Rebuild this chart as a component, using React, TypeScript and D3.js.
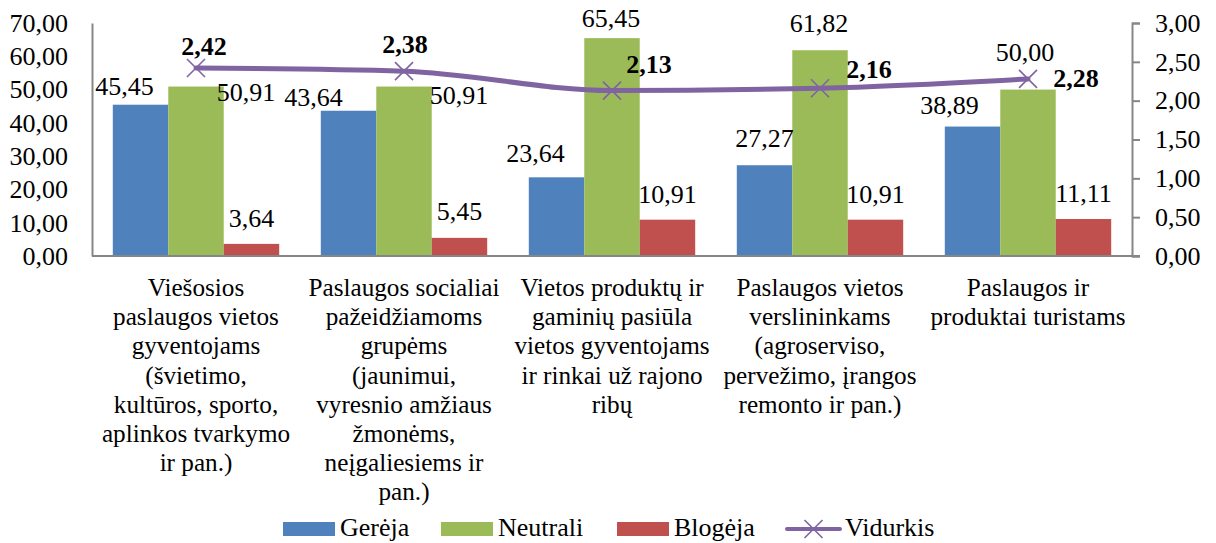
import { useEffect, useRef } from 'react';
import * as d3 from 'd3';

// chart values
const categories = [
    ['Viešosios', 'paslaugos vietos', 'gyventojams', '(švietimo,', 'kultūros, sporto,', 'aplinkos tvarkymo', 'ir pan.)'],
    ['Paslaugos socialiai', 'pažeidžiamoms', 'grupėms', '(jaunimui,', 'vyresnio amžiaus', 'žmonėms,', 'neįgaliesiems ir', 'pan.)'],
    ['Vietos produktų ir', 'gaminių pasiūla', 'vietos gyventojams', 'ir rinkai už rajono', 'ribų'],
    ['Paslaugos vietos', 'verslininkams', '(agroserviso,', 'pervežimo, įrangos', 'remonto ir pan.)'],
    ['Paslaugos ir', 'produktai turistams'],
];
const gereja = [45.45, 43.64, 23.64, 27.27, 38.89];
const neutrali = [50.91, 50.91, 65.45, 61.82, 50.0];
const blogeja = [3.64, 5.45, 10.91, 10.91, 11.11];
const vidurkis = [2.42, 2.38, 2.13, 2.16, 2.28];
const leftTicks = [0, 10, 20, 30, 40, 50, 60, 70];
const rightTicks = [0, 0.5, 1, 1.5, 2, 2.5, 3];
const seriesNames = ['Gerėja', 'Neutrali', 'Blogėja', 'Vidurkis'];

// label nudges (dx, dy from the mark), as placed in the original
const barLabelNudge = [
    [[-16, -10], [50, 14], [0, -17]],
    [[-35, -5], [55, 17], [0, -18]],
    [[-21, -15], [-1, -11], [0, -17]],
    [[0, -18], [-1, -18], [0, -17]],
    [[-23, -13], [-3, -29], [0, -17]],
];
const lineLabelNudge = [[8, -13], [1, -18], [37, -18], [49, -10], [48, 8]];

const colors = ['#4F81BD', '#9BBB59', '#C0504D', '#8064A2'];
const fmt = (v: number) => v.toFixed(2).replace('.', ',');

const App = () => {
    const svgRef = useRef<SVGSVGElement>(null);

    useEffect(() => {
        const width = 1216;
        const height = 543;
        const margin = { top: 23, right: 84, bottom: 287, left: 92 };
        const plotW = width - margin.left - margin.right;
        const plotH = height - margin.top - margin.bottom;
        const font = 'Liberation Serif, Times New Roman, serif';

        const root = d3.select(svgRef.current);
        root.selectAll('*').remove();
        root.attr('width', width).attr('height', height);

        const svg = root.append('g').attr('transform', `translate(${margin.left},${margin.top})`);

        const x = d3.scaleBand().domain(d3.range(categories.length).map(String)).range([0, plotW]).paddingInner(0.2).paddingOuter(0.1);
        const xInner = d3.scaleBand().domain(['0', '1', '2']).range([0, x.bandwidth()]);
        const yLeft = d3.scaleLinear().domain([0, 70]).range([plotH, 0]);
        const yRight = d3.scaleLinear().domain([0, 3]).range([plotH, 0]);
        const center = (i: number) => x(String(i))! + x.bandwidth() / 2;

        // left axis
        const axL = svg.append('g').call(d3.axisLeft(yLeft).tickValues(leftTicks).tickSize(0).tickPadding(24).tickFormat(d => fmt(+d)));
        axL.select('.domain').attr('stroke', '#868686').attr('stroke-width', 2);
        axL.selectAll('text').attr('font-family', font).attr('font-size', 26).attr('fill', '#000');

        // right axis
        const axR = svg.append('g').attr('transform', `translate(${plotW},0)`)
            .call(d3.axisRight(yRight).tickValues(rightTicks).tickSizeOuter(0).tickSize(8).tickPadding(15).tickFormat(d => fmt(+d)));
        axR.select('.domain').attr('stroke', '#868686').attr('stroke-width', 2);
        axR.selectAll('line').attr('stroke', '#868686').attr('stroke-width', 2);
        axR.selectAll('text').attr('font-family', font).attr('font-size', 26).attr('fill', '#000');

        // bottom axis line
        svg.append('line').attr('x1', 0).attr('x2', plotW + 8).attr('y1', plotH).attr('y2', plotH)
            .attr('stroke', '#868686').attr('stroke-width', 2);

        // bars
        const barSeries = [gereja, neutrali, blogeja];
        barSeries.forEach((vals, s) => {
            svg.selectAll(`.bar-${s}`).data(vals).enter().append('rect')
                .attr('x', (d, i) => x(String(i))! + xInner(String(s))!)
                .attr('y', d => yLeft(d))
                .attr('width', xInner.bandwidth())
                .attr('height', d => plotH - yLeft(d) - 1)
                .attr('fill', colors[s]);
        });

        // bar labels
        barSeries.forEach((vals, s) => {
            svg.selectAll(`.lab-${s}`).data(vals).enter().append('text')
                .attr('x', (d, i) => x(String(i))! + xInner(String(s))! + xInner.bandwidth() / 2 + barLabelNudge[i][s][0])
                .attr('y', (d, i) => yLeft(d) + barLabelNudge[i][s][1])
                .attr('text-anchor', 'middle')
                .attr('font-family', font).attr('font-size', 26)
                .text(d => fmt(d));
        });

        // average line
        const line = d3.line<number>().x((d, i) => center(i)).y(d => yRight(d)).curve(d3.curveMonotoneX);
        svg.append('path').attr('d', line(vidurkis)).attr('fill', 'none')
            .attr('stroke', colors[3]).attr('stroke-width', 5).attr('stroke-linecap', 'round');

        const cross = (g: any, cx: number, cy: number) => {
            g.append('path').attr('d', `M${cx - 9},${cy - 9}L${cx + 9},${cy + 9}M${cx - 9},${cy + 9}L${cx + 9},${cy - 9}`)
                .attr('stroke', colors[3]).attr('stroke-width', 1.6).attr('fill', 'none');
        };
        vidurkis.forEach((d, i) => cross(svg, center(i), yRight(d)));

        svg.selectAll('.lab-avg').data(vidurkis).enter().append('text')
            .attr('x', (d, i) => center(i) + lineLabelNudge[i][0])
            .attr('y', (d, i) => yRight(d) + lineLabelNudge[i][1])
            .attr('text-anchor', 'middle')
            .attr('font-family', font).attr('font-size', 26).attr('font-weight', 'bold')
            .text(d => fmt(d));

        // category labels
        categories.forEach((lines, i) => {
            const t = svg.append('text').attr('text-anchor', 'middle')
                .attr('font-family', font).attr('font-size', 25.2);
            lines.forEach((ln, k) => {
                t.append('tspan').attr('x', center(i)).attr('y', plotH + 40 + k * 29.2).text(ln);
            });
        });

        // legend
        const legend = root.append('g').attr('transform', 'translate(283,522)');
        const legendX = [0, 158, 334, 502];
        seriesNames.forEach((name, s) => {
            const g = legend.append('g').attr('transform', `translate(${legendX[s]},0)`);
            if (s < 3) {
                g.append('rect').attr('width', 52).attr('height', 14).attr('fill', colors[s]);
            } else {
                g.append('line').attr('x1', 2).attr('x2', 55).attr('y1', 7).attr('y2', 7)
                    .attr('stroke', colors[3]).attr('stroke-width', 4).attr('stroke-linecap', 'round');
                cross(g, 28.5, 7);
            }
            g.append('text').attr('x', s < 3 ? 57 : 60).attr('y', 14)
                .attr('font-family', font).attr('font-size', 26).text(name);
        });
    }, []);

    return <svg ref={svgRef} style={{ position: 'absolute', left: 0, top: 0 }}></svg>;
};

export default App;
